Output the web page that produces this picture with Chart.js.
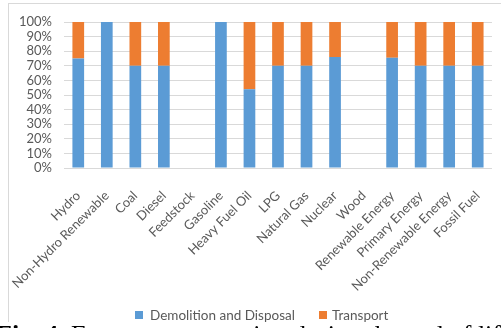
<!DOCTYPE html>
<html>
<head>
<meta charset="utf-8">
<script src="https://cdn.jsdelivr.net/npm/chart.js@4"></script>
<style>
  html, body { margin: 0; padding: 0; background: #fff; }
  #wrap { position: relative; width: 501px; height: 328px; overflow: hidden; }
  #frame { position: absolute; left: 8px; top: 3px; width: 600px; height: 340px;
           border-left: 1px solid #d9d9d9; border-top: 1px solid #d9d9d9; box-sizing: border-box; }
  canvas { position: absolute; left: 0; top: 0; }
  .key { position: absolute; top: 307px; height: 16px; line-height: 16px; white-space: nowrap;
         font-family: Lato, "Open Sans", sans-serif; font-size: 13.5px; color: #595959; }
  .key i { position: absolute; left: 0; top: 4px; width: 8px; height: 8px; }
  .key span { position: absolute; left: 15px; top: 0; }
  #caption { position: absolute; left: -4px; top: 322px; white-space: nowrap;
             font-family: "Liberation Serif", "DejaVu Serif", serif; font-size: 26px;
             line-height: 26px; color: #000; background: #fff; }
  #caption b { font-weight: bold; }
</style>
</head>
<body>
<div id="wrap">
  <div id="frame"></div>
  <canvas id="c" width="501" height="328"></canvas>
  <div id="legend"></div>
  <div id="caption"><b>Fig. 4.</b> Energy consumption during the end of life</div>
</div>
<script>
// Energy sources on the x axis
const categories = [
  'Hydro', 'Non-Hydro Renewable', 'Coal', 'Diesel', 'Feedstock', 'Gasoline',
  'Heavy Fuel Oil', 'LPG', 'Natural Gas', 'Nuclear', 'Wood',
  'Renewable Energy', 'Primary Energy', 'Non-Renewable Energy', 'Fossil Fuel'
];
// Share of end-of-life energy, in percent
const demolitionDisposal = [75, 100, 70, 70, 0, 100, 54, 70, 70, 76, 0, 75.5, 70, 70, 70];
const transport          = [25,   0, 30, 30, 0,   0, 46, 30, 30, 24, 0, 24.5, 30, 30, 30];
// Percent axis: 0% to 100% in steps of 10
const yMin = 0, yMax = 100, yStep = 10;

const grey = '#595959';
const labelFont = { family: 'Lato, "Open Sans", sans-serif', size: 13 };

const chart = new Chart(document.getElementById('c'), {
  type: 'bar',
  data: {
    labels: categories,
    datasets: [
      { label: 'Demolition and Disposal', data: demolitionDisposal, backgroundColor: '#5B9BD5',
        barPercentage: 0.41, categoryPercentage: 1.0 },
      { label: 'Transport', data: transport, backgroundColor: '#ED7D31',
        barPercentage: 0.41, categoryPercentage: 1.0 }
    ]
  },
  options: {
    responsive: false,
    animation: false,
    layout: { padding: { left: 0, right: 8, top: 22, bottom: 0 } },
    plugins: { legend: { display: false }, tooltip: { enabled: false } },
    scales: {
      x: {
        stacked: true,
        grid: { display: false },
        border: { display: false },
        ticks: { color: grey, font: labelFont, maxRotation: 45, minRotation: 45, autoSkip: false, padding: 12 },
        afterFit(scale) { scale.height = 160; }
      },
      y: {
        stacked: true,
        min: yMin, max: yMax,
        grid: { color: '#d9d9d9', drawTicks: false },
        border: { display: false },
        ticks: { color: grey, font: labelFont, padding: 12, stepSize: yStep, autoSkip: false,
                 callback: v => v + '%' },
        afterFit(scale) { scale.width = 64; }
      }
    }
  }
});

// Legend row under the axis, built from the chart's own datasets
const legendLeft = [135, 319];
const legendEl = document.getElementById('legend');
chart.data.datasets.forEach((ds, i) => {
  const key = document.createElement('div');
  key.className = 'key';
  key.style.left = legendLeft[i] + 'px';
  const swatch = document.createElement('i');
  swatch.style.background = ds.backgroundColor;
  const text = document.createElement('span');
  text.textContent = ds.label;
  if (i === 1) text.style.left = '13px';
  key.appendChild(swatch);
  key.appendChild(text);
  legendEl.appendChild(key);
});
</script>
</body>
</html>
